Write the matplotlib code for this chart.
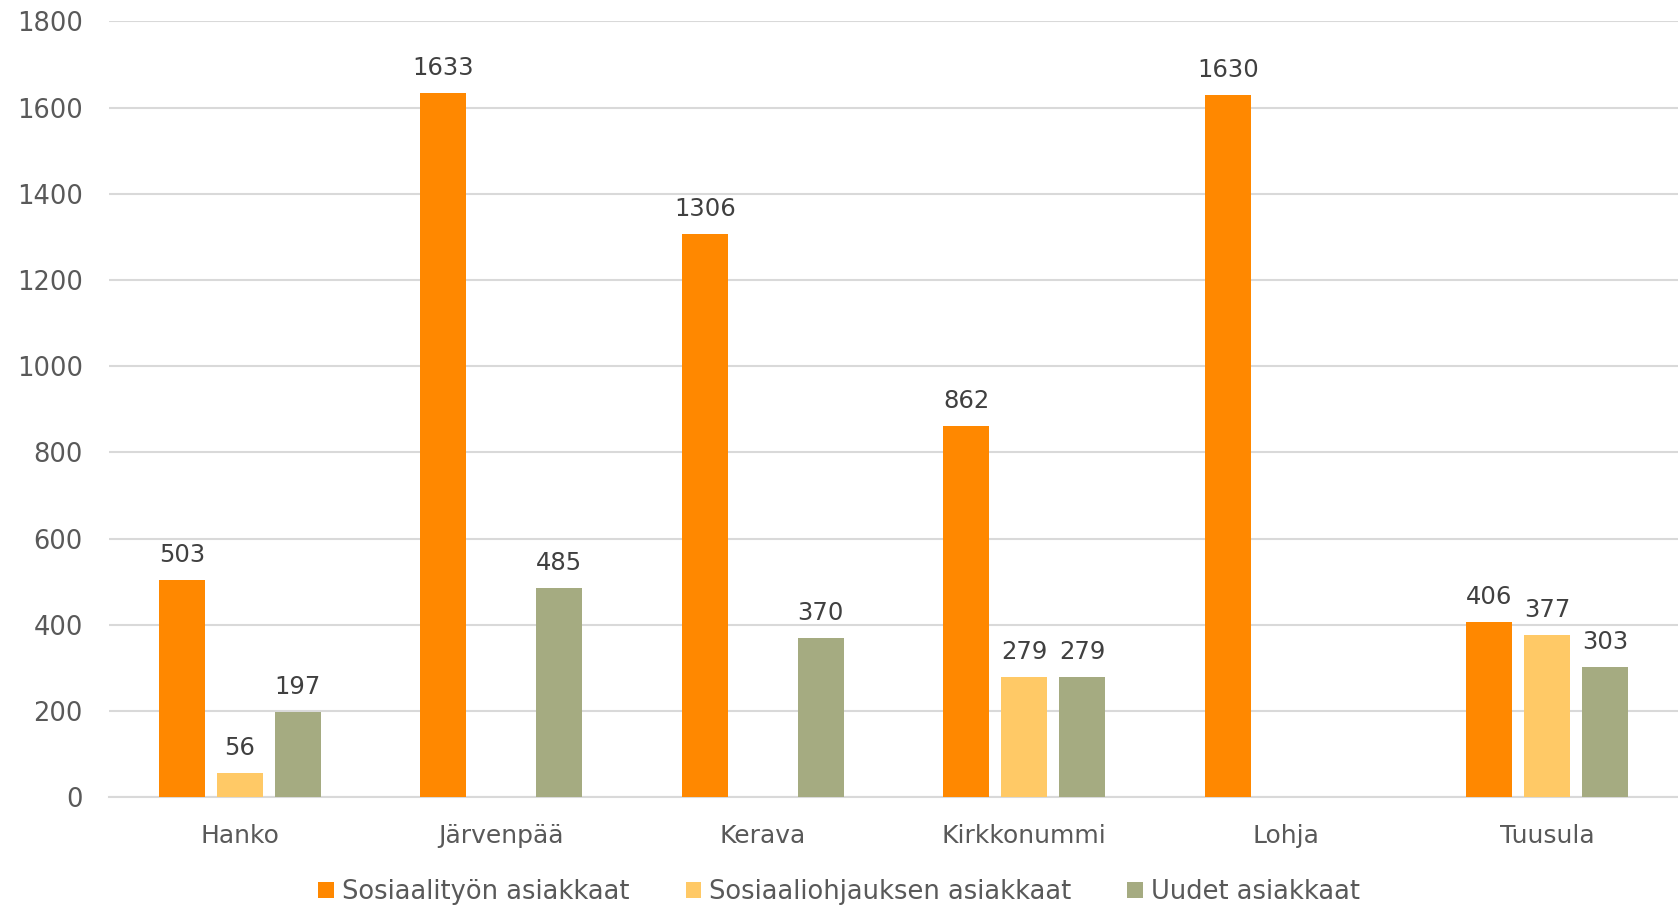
import numpy as np
import matplotlib.pyplot as plt

plt.rcParams['font.family'] = ['DejaVu Sans']

kunnat = ["Hanko", "Järvenpää", "Kerava", "Kirkkonummi", "Lohja", "Tuusula"]
sosiaalityo = [503, 1633, 1306, 862, 1630, 406]
sosiaaliohjaus = [56, np.nan, np.nan, 279, np.nan, 377]
uudet = [197, 485, 370, 279, np.nan, 303]

sarjat = [
    ("Sosiaalityön asiakkaat", sosiaalityo, "#FF8800"),
    ("Sosiaaliohjauksen asiakkaat", sosiaaliohjaus, "#FFC966"),
    ("Uudet asiakkaat", uudet, "#A5AB81"),
]

fig = plt.figure(figsize=(16.78, 9.09), dpi=100)
ax = fig.add_axes([0.065, 0.123, 0.935, 0.8535])

x = np.arange(len(kunnat))
w = 0.176
step = 0.222
for i, (nimi, arvot, vari) in enumerate(sarjat):
    pos = x + (i - 1) * step
    ax.bar(pos, arvot, width=w, color=vari, label=nimi, zorder=3)
    for xp, v in zip(pos, arvot):
        if not np.isnan(v):
            ax.text(xp, v + 30, f"{int(v)}", ha="center", va="bottom",
                    fontsize=17.5, color="#404040")

ax.set_xlim(-0.5, len(kunnat) - 0.5)
ax.set_ylim(0, 1800)
ax.set_yticks(range(0, 1801, 200))
ax.set_xticks(x)
ax.set_xticklabels(kunnat)
ax.tick_params(axis="both", length=0, labelcolor="#595959")
ax.tick_params(axis="x", pad=19, labelsize=18)
ax.tick_params(axis="y", pad=19, labelsize=18.5)
ax.grid(axis="y", color="#D9D9D9", linewidth=1.5, zorder=0)
for s in ["top", "right", "left"]:
    ax.spines[s].set_visible(False)
ax.spines["bottom"].set_color("#D9D9D9")
ax.spines["bottom"].set_linewidth(1.5)

leg = fig.legend(loc="lower center", bbox_to_anchor=(0.5, -0.021), ncol=3,
                 frameon=False, fontsize=18.5, handlelength=0.6, handleheight=0.6,
                 handletextpad=0.3, columnspacing=2.2)
for t in leg.get_texts():
    t.set_color("#595959")

fig.savefig("out.png", dpi=100)
